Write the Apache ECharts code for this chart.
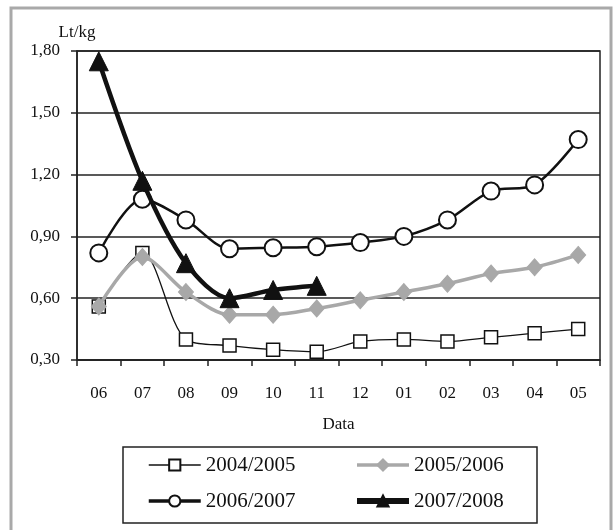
<!DOCTYPE html>
<html>
<head>
<meta charset="utf-8">
<script src="https://cdn.jsdelivr.net/npm/echarts@6/dist/echarts.min.js"></script>
<style>html,body{margin:0;padding:0;background:#fff;}#c{width:613px;height:530px;}</style>
</head>
<body>
<div id="c"></div>
<script>
const months = ['06','07','08','09','10','11','12','01','02','03','04','05'];
const s2004 = [0.56,0.82,0.40,0.37,0.35,0.34,0.39,0.40,0.39,0.41,0.43,0.45];
const s2005 = [0.56,0.80,0.63,0.52,0.52,0.55,0.59,0.63,0.67,0.72,0.75,0.81];
const s2006 = [0.82,1.08,0.98,0.84,0.845,0.85,0.87,0.90,0.98,1.12,1.15,1.37];
const s2007 = [1.75,1.17,0.77,0.60,0.64,0.66];
const names = ['2004/2005','2005/2006','2006/2007','2007/2008'];
const yTicks = {min:0.30, max:1.80, step:0.30};

const font = 'Liberation Serif, Times New Roman, serif';
const chart = echarts.init(document.getElementById('c'));
const legendText = {fontFamily: font, fontSize: 21, color: '#111', lineHeight: 22};
chart.setOption({
  animation: false,
  backgroundColor: '#fff',
  graphic: [
    {type:'rect', shape:{x:11, y:8, width:600, height:540}, style:{fill:'none', stroke:'#a9a9a9', lineWidth:3}, z:-1},
    {type:'rect', shape:{x:123, y:447, width:414, height:76}, style:{fill:'none', stroke:'#222', lineWidth:1.5}}
  ],
  grid: {left:77, right:13, top:51, bottom:170, show:true, borderColor:'#222', borderWidth:1.5, backgroundColor:'transparent'},
  legend: [
    {data:[{name:names[0], lineStyle:{width:1.5}}, {name:names[2], lineStyle:{width:3.5}}],
      orient:'vertical', left:147, top:454, padding:0, itemGap:14, itemWidth:52, itemHeight:14, textStyle:legendText},
    {data:[{name:names[1], lineStyle:{width:3.5}}, {name:names[3], lineStyle:{width:6}}],
      orient:'vertical', left:354, top:454, padding:0, itemGap:14, itemWidth:52, itemHeight:14, textStyle:legendText}
  ],
  xAxis: {
    type:'category', data: months, boundaryGap:true,
    name:'Data', nameLocation:'middle', nameGap:56,
    nameTextStyle:{fontFamily:font, fontSize:17, color:'#111'},
    axisLine:{lineStyle:{color:'#222', width:1.5}},
    axisTick:{show:true, length:6, lineStyle:{color:'#222', width:1.5}},
    axisLabel:{fontFamily:font, fontSize:17, color:'#111', margin:25}
  },
  yAxis: {
    type:'value', min:yTicks.min, max:yTicks.max, interval:yTicks.step,
    name:'Lt/kg', nameLocation:'end', nameGap:10,
    nameTextStyle:{fontFamily:font, fontSize:17, color:'#111', align:'center'},
    axisLine:{show:true, lineStyle:{color:'#222', width:1.5}},
    axisTick:{show:true, length:6, lineStyle:{color:'#222', width:1.5}},
    splitLine:{show:true, lineStyle:{color:'#222', width:1.6}},
    axisLabel:{fontFamily:font, fontSize:17, color:'#111', margin:17,
      formatter: v => v.toFixed(2).replace('.', ',')}
  },
  series: [
    {name:names[0], type:'line', data:s2004, smooth:0.3, symbol:'rect', symbolSize:13,
      lineStyle:{color:'#111', width:1.3}, itemStyle:{color:'#fff', borderColor:'#111', borderWidth:1.5}, z:2},
    {name:names[1], type:'line', data:s2005, smooth:0.3, symbol:'diamond', symbolSize:[15,17],
      lineStyle:{color:'#a8a8a8', width:3.5}, itemStyle:{color:'#a8a8a8', borderColor:'#a8a8a8', borderWidth:1}, z:3},
    {name:names[2], type:'line', data:s2006, smooth:0.3, symbol:'circle', symbolSize:17,
      lineStyle:{color:'#111', width:2.5}, itemStyle:{color:'#fff', borderColor:'#111', borderWidth:2}, z:4},
    {name:names[3], type:'line', data:s2007, smooth:0.3, symbol:'triangle', symbolSize:19,
      lineStyle:{color:'#111', width:4.5}, itemStyle:{color:'#111', borderColor:'#111', borderWidth:1}, z:5}
  ]
});
</script>
</body>
</html>
